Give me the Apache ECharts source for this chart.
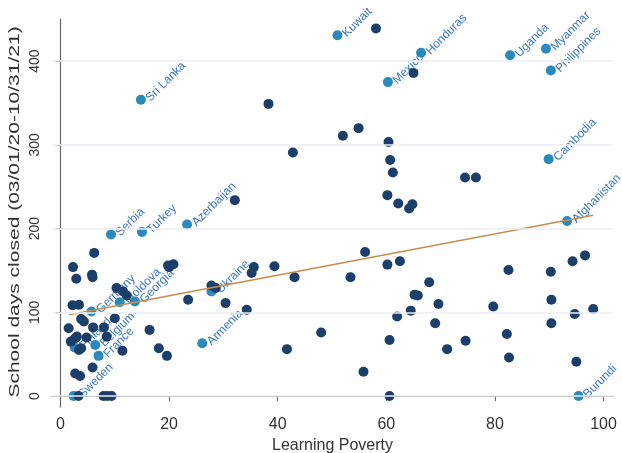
<!DOCTYPE html>
<html>
<head>
<meta charset="utf-8">
<script src="https://cdn.jsdelivr.net/npm/echarts@6/dist/echarts.min.js"></script>
<style>
html,body{margin:0;padding:0;background:#fff;}
#chart{width:622px;height:453px;}
</style>
</head>
<body>
<div id="chart"></div>
<script>
// Labelled countries (highlighted)
const labelNames = ['Kuwait','Sri Lanka','Mexico','Honduras','Uganda','Myanmar','Philippines','Cambodia','Afghanistan','Burundi','Serbia','Turkey','Azerbaijan','Ukraine','Armenia','Germany','Moldova','Georgia','Finland','Belgium','France','Sweden'];
const labelX = [51.0,14.8,60.3,66.4,82.8,89.4,90.3,89.9,93.3,95.4,9.3,15.0,23.3,27.8,26.1,5.7,10.9,13.7,2.6,6.4,7.0,2.4];
const labelY = [431,354,375,410,407,415,389,283,209,0,193,196,205,125,63,101,112,113,58,61,48,0];

// Other countries
const otherX = [58.1,65.0,38.3,42.8,32.1,52.0,54.9,60.4,60.7,61.2,60.2,62.2,64.8,64.2,74.5,76.5,56.1,60.2,62.5,53.4,67.9,65.2,65.8,69.6,64.5,62.0,69.0,48.0,60.6,71.2,55.8,60.6,43.1,74.6,79.7,82.5,82.2,82.6,90.3,90.4,90.4,94.3,96.6,94.7,98.1,95.0,41.7,39.4,35.6,35.2,34.3,30.4,27.8,28.6,23.5,20.8,20.0,19.8,16.4,18.1,19.6,11.4,10.3,11.5,12.2,10.0,8.5,6.2,5.8,5.9,6.0,5.9,2.3,2.9,2.2,3.4,3.8,4.3,1.5,1.9,2.7,3.0,4.8,3.8,3.4,2.7,3.6,3.3,7.9,8.6,9.4,8.0];
const otherY = [439,386,349,291,234,311,320,303.5,282,267,240,230,229,224,261,261,172,157,161,142,136,121,120,110,102,95,87,76,67,56,29,0,142,66,107,150.5,74,46,148.5,115,87,161,168,98,104,41,56,155,154,147,103,111,132,129,115,157.5,154,156,79,57,48,54,129,125,120,93,71,171,145,142,82,34,154,140,108.5,109,92,89,81,65,69,71,70,57,55,27,24,0,0,0,0,82];

// Fitted line endpoints
const fitX = [1.6, 98.1];
const fitY = [97, 216];

// Tick labels
const xTicks = [0,20,40,60,80,100];
const yTicks = [0,100,200,300,400];

const xTitle = 'Learning Poverty';
const yTitle = 'School days closed (03/01/20-10/31/21)';

const chart = echarts.init(document.getElementById('chart'), null, {renderer:'canvas'});
const font = 'Liberation Sans, Arial, sans-serif';

const labelData = labelNames.map((n,i)=>({name:n, value:[labelX[i], labelY[i]]}));
const otherData = otherX.map((x,i)=>[x, otherY[i]]);
const fitData = fitX.map((x,i)=>[x, fitY[i]]);

chart.setOption({
  animation:false,
  backgroundColor:'#ffffff',
  grid:{left:52, right:9, top:19, bottom:46, containLabel:false, outerBoundsMode:'none'},
  graphic:[{
    type:'text', x:15, y:212, rotation:Math.PI/2, scaleX:1.4, scaleY:1,
    silent:true,
    style:{text:yTitle, fill:'#333', font:'15px ' + font, align:'center', verticalAlign:'middle'}
  }],
  xAxis:{
    type:'value', min:-1.57, max:101.75,
    name:xTitle, nameLocation:'middle', nameGap:27,
    nameTextStyle:{color:'#333', fontSize:16, fontFamily:font},
    axisLine:{show:true, lineStyle:{color:'#666', width:1.2}},
    axisTick:{show:true, length:5, customValues:xTicks, lineStyle:{color:'#666'}},
    axisLabel:{customValues:xTicks, color:'#333', fontSize:16, fontFamily:font, margin:10},
    splitLine:{show:false}
  },
  yAxis:{
    type:'value', min:-13.1, max:450.4,
    axisLine:{show:true, lineStyle:{color:'#666', width:1.2}},
    axisTick:{show:true, length:5, customValues:yTicks, lineStyle:{color:'#666'}},
    axisLabel:{customValues:yTicks, color:'#333', fontSize:14, fontFamily:font, rotate:90, margin:10},
    splitLine:{show:false}
  },
  series:[
    {
      type:'line', data:[], z:0, silent:true,
      markLine:{
        silent:true, symbol:['none','none'], label:{show:false},
        lineStyle:{color:'#eceef4', width:1.5, type:'solid'},
        data:yTicks.map(v=>({yAxis:v}))
      }
    },
    {
      type:'scatter', z:2, data:labelData, symbolSize:10,
      itemStyle:{color:'#2a8abd', opacity:1},
      label:{show:true, position:'right', distance:2, rotate:45, formatter:'{b}', color:'#3a76bc', fontSize:12, fontFamily:font}
    },
    {
      type:'scatter', z:3, data:otherData, symbolSize:10,
      itemStyle:{color:'#1b3e6a', opacity:1}
    },
    {
      type:'line', z:4, data:fitData, symbol:'none', silent:true,
      lineStyle:{color:'#c68d4e', width:1.5}
    }
  ]
});
</script>
</body>
</html>
